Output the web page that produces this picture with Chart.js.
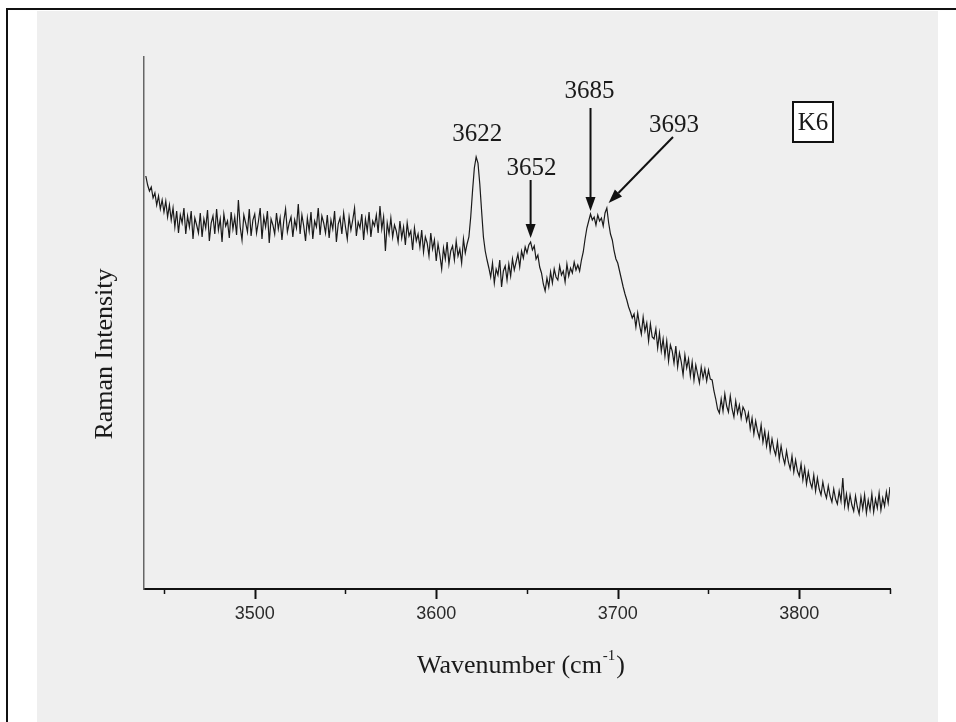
<!DOCTYPE html>
<html>
<head>
<meta charset="utf-8">
<script src="https://cdn.jsdelivr.net/npm/chart.js@4/dist/chart.umd.min.js"></script>
<style>
html, body { margin: 0; padding: 0; background: #fff; }
canvas { display: block; }
</style>
</head>
<body>
<canvas id="ramanChart" width="956" height="722"></canvas>
<script>
// Raman spectrum, sample K6 (intensity in arbitrary units), 1 cm-1 sampling
const wavenumbers = [
  3440, 3441, 3442, 3443, 3444, 3445, 3446, 3447, 3448, 3449,
  3450, 3451, 3452, 3453, 3454, 3455, 3456, 3457, 3458, 3459,
  3460, 3461, 3462, 3463, 3464, 3465, 3466, 3467, 3468, 3469,
  3470, 3471, 3472, 3473, 3474, 3475, 3476, 3477, 3478, 3479,
  3480, 3481, 3482, 3483, 3484, 3485, 3486, 3487, 3488, 3489,
  3490, 3491, 3492, 3493, 3494, 3495, 3496, 3497, 3498, 3499,
  3500, 3501, 3502, 3503, 3504, 3505, 3506, 3507, 3508, 3509,
  3510, 3511, 3512, 3513, 3514, 3515, 3516, 3517, 3518, 3519,
  3520, 3521, 3522, 3523, 3524, 3525, 3526, 3527, 3528, 3529,
  3530, 3531, 3532, 3533, 3534, 3535, 3536, 3537, 3538, 3539,
  3540, 3541, 3542, 3543, 3544, 3545, 3546, 3547, 3548, 3549,
  3550, 3551, 3552, 3553, 3554, 3555, 3556, 3557, 3558, 3559,
  3560, 3561, 3562, 3563, 3564, 3565, 3566, 3567, 3568, 3569,
  3570, 3571, 3572, 3573, 3574, 3575, 3576, 3577, 3578, 3579,
  3580, 3581, 3582, 3583, 3584, 3585, 3586, 3587, 3588, 3589,
  3590, 3591, 3592, 3593, 3594, 3595, 3596, 3597, 3598, 3599,
  3600, 3601, 3602, 3603, 3604, 3605, 3606, 3607, 3608, 3609,
  3610, 3611, 3612, 3613, 3614, 3615, 3616, 3617, 3618, 3619,
  3620, 3621, 3622, 3623, 3624, 3625, 3626, 3627, 3628, 3629,
  3630, 3631, 3632, 3633, 3634, 3635, 3636, 3637, 3638, 3639,
  3640, 3641, 3642, 3643, 3644, 3645, 3646, 3647, 3648, 3649,
  3650, 3651, 3652, 3653, 3654, 3655, 3656, 3657, 3658, 3659,
  3660, 3661, 3662, 3663, 3664, 3665, 3666, 3667, 3668, 3669,
  3670, 3671, 3672, 3673, 3674, 3675, 3676, 3677, 3678, 3679,
  3680, 3681, 3682, 3683, 3684, 3685, 3686, 3687, 3688, 3689,
  3690, 3691, 3692, 3693, 3694, 3695, 3696, 3697, 3698, 3699,
  3700, 3701, 3702, 3703, 3704, 3705, 3706, 3707, 3708, 3709,
  3710, 3711, 3712, 3713, 3714, 3715, 3716, 3717, 3718, 3719,
  3720, 3721, 3722, 3723, 3724, 3725, 3726, 3727, 3728, 3729,
  3730, 3731, 3732, 3733, 3734, 3735, 3736, 3737, 3738, 3739,
  3740, 3741, 3742, 3743, 3744, 3745, 3746, 3747, 3748, 3749,
  3750, 3751, 3752, 3753, 3754, 3755, 3756, 3757, 3758, 3759,
  3760, 3761, 3762, 3763, 3764, 3765, 3766, 3767, 3768, 3769,
  3770, 3771, 3772, 3773, 3774, 3775, 3776, 3777, 3778, 3779,
  3780, 3781, 3782, 3783, 3784, 3785, 3786, 3787, 3788, 3789,
  3790, 3791, 3792, 3793, 3794, 3795, 3796, 3797, 3798, 3799,
  3800, 3801, 3802, 3803, 3804, 3805, 3806, 3807, 3808, 3809,
  3810, 3811, 3812, 3813, 3814, 3815, 3816, 3817, 3818, 3819,
  3820, 3821, 3822, 3823, 3824, 3825, 3826, 3827, 3828, 3829,
  3830, 3831, 3832, 3833, 3834, 3835, 3836, 3837, 3838, 3839,
  3840, 3841, 3842, 3843, 3844, 3845, 3846, 3847, 3848, 3849,
  3850
];
const intensity = [
  413, 404, 398, 402, 391, 396, 384, 393, 380, 389,
  377, 388, 372, 384, 369, 381, 362, 378, 356, 374,
  366, 381, 355, 373, 362, 378, 350, 371, 364, 356,
  376, 352, 370, 361, 379, 348, 366, 373, 355, 380,
  359, 370, 347, 375, 363, 368, 351, 377, 360, 372,
  354, 389, 362, 349, 374, 366, 357, 380, 353, 369,
  375, 356, 367, 381, 350, 372, 362, 378, 346, 370,
  364, 355, 376, 360, 371, 349, 368, 380, 357, 366,
  372, 352, 369, 361, 385, 355, 374, 363, 348, 371,
  358, 377, 350, 368, 362, 381, 354, 373, 366, 356,
  374, 351, 369, 360, 378, 347, 365, 371, 355, 376,
  362, 350, 372, 359, 369, 381, 353, 367, 361, 375,
  349, 370, 358, 377, 352, 368, 363, 374, 356, 383,
  360, 372, 338, 366, 355, 371, 352, 364, 358, 347,
  368, 351, 362, 344, 366, 353, 358, 339, 361, 348,
  355, 342, 359, 337, 352, 346, 333, 356, 340, 349,
  328, 345, 334, 320, 341, 330, 347, 325, 338, 343,
  329, 348, 333, 340, 326, 350, 336, 345, 352, 372,
  398, 421, 432, 426, 405, 378, 352, 338, 329, 321,
  312, 326, 306, 320, 314, 329, 302, 318, 323, 309,
  325, 313, 330, 319, 327, 335, 322, 338, 331, 342,
  336, 344, 347, 339, 343, 330, 334, 322, 316, 305,
  298, 311, 302, 317, 306, 320, 312, 309, 323, 314,
  318, 307, 325, 313, 321, 316, 327, 319, 324, 318,
  329, 337, 350, 361, 368, 375, 369, 372, 364, 374,
  368, 371, 363, 376, 381, 366, 355, 349, 338, 330,
  326, 318, 310, 302, 295, 289, 282, 277, 271, 275,
  262, 276, 264, 255, 272, 258, 266, 248, 265, 252,
  250, 260, 241, 256, 238, 250, 233, 248, 228, 244,
  238, 226, 243, 222, 236, 227, 214, 234, 221, 230,
  213, 227, 209, 224, 215, 206, 222, 211, 220, 208,
  219, 210, 209, 198, 190, 180, 176, 190, 178, 195,
  183, 177, 193, 180, 172, 188, 176, 184, 171, 182,
  178, 168, 176, 160, 171, 155, 168, 158, 151, 164,
  147, 158, 143, 155, 138, 150, 140, 134, 147, 130,
  143, 132, 125, 138, 127, 120, 133, 117, 129, 118,
  113, 125, 109, 121, 105, 117, 107, 101, 114, 98,
  111, 100, 94, 107, 97, 91, 103, 93, 87, 100,
  90, 85, 98, 88, 111, 83, 95, 81, 94, 84,
  78, 93, 82, 75, 92, 80, 94, 76, 89, 79,
  95, 77, 90, 81, 96, 79, 91, 83, 97, 86,
  102
];
const xTicks = [3450, 3500, 3550, 3600, 3650, 3700, 3750, 3800, 3850];
const peaks = ['3622', '3652', '3685', '3693'];

const ctx = document.getElementById('ramanChart').getContext('2d');

const paperPlugin = {
  id: 'paper',
  beforeDraw(chart) {
    const c = chart.ctx;
    c.save();
    c.fillStyle = '#ffffff';
    c.fillRect(0, 0, 956, 722);
    c.fillStyle = '#efefef';
    c.fillRect(37, 11, 901, 711);
    c.fillStyle = '#111';
    c.fillRect(6, 8, 950, 2);
    c.fillRect(6, 8, 2, 714);
    c.restore();
  },
  afterDraw(chart) {
    const c = chart.ctx;
    const xs = chart.scales.x;
    const bottom = chart.chartArea.bottom;
    c.save();
    // tick marks, long ones on the hundreds
    c.strokeStyle = '#111';
    xTicks.forEach(v => {
      const px = Math.round(xs.getPixelForValue(v)) + 0.5;
      const major = v % 100 === 0;
      c.lineWidth = major ? 2 : 1.5;
      c.beginPath();
      c.moveTo(px, bottom);
      c.lineTo(px, bottom + (major ? 10 : 5));
      c.stroke();
    });

    // axis titles
    c.fillStyle = '#1a1a1a';
    c.font = '26px "Liberation Serif", "Times New Roman", serif';
    c.textBaseline = 'alphabetic';
    c.textAlign = 'left';
    const main = 'Wavenumber (cm';
    const w1 = c.measureText(main).width;
    c.font = '15px "Liberation Serif", serif';
    const w2 = c.measureText('-1').width;
    c.font = '26px "Liberation Serif", "Times New Roman", serif';
    const w3 = c.measureText(')').width;
    let tx = 520 - (w1 + w2 + w3) / 2;
    c.fillText(main, tx, 673);
    c.font = '15px "Liberation Serif", serif';
    c.fillText('-1', tx + w1 + 1, 660);
    c.font = '26px "Liberation Serif", "Times New Roman", serif';
    c.fillText(')', tx + w1 + w2 + 2, 673);

    c.save();
    c.translate(105, 354);
    c.rotate(-Math.PI / 2);
    c.textAlign = 'center';
    c.textBaseline = 'middle';
    c.fillText('Raman Intensity', 0, 0);
    c.restore();

    // peak labels and arrows
    c.font = '25px "Liberation Serif", "Times New Roman", serif';
    c.textAlign = 'center';
    c.textBaseline = 'middle';
    const p = v => xs.getPixelForValue(v);
    c.fillText(peaks[0], p(3622) + 1, 134);
    c.fillText(peaks[1], p(3652) + 1, 168);
    c.fillText(peaks[2], p(3685) - 1, 91);
    c.fillText(peaks[3], 674, 125);

    const arrow = (x0, y0, x1, y1) => {
      const ang = Math.atan2(y1 - y0, x1 - x0);
      const hl = 14, hw = 5;
      const bx = x1 - hl * Math.cos(ang), by = y1 - hl * Math.sin(ang);
      c.lineWidth = 2;
      c.strokeStyle = '#111';
      c.beginPath();
      c.moveTo(x0, y0);
      c.lineTo(bx, by);
      c.stroke();
      c.fillStyle = '#111';
      c.beginPath();
      c.moveTo(x1, y1);
      c.lineTo(bx + hw * Math.sin(ang), by - hw * Math.cos(ang));
      c.lineTo(bx - hw * Math.sin(ang), by + hw * Math.cos(ang));
      c.closePath();
      c.fill();
    };
    arrow(p(3652), 180, p(3652), 238);
    arrow(p(3685), 108, p(3685), 211);
    arrow(673, 137, p(3695), 203);

    // sample tag
    c.fillStyle = '#ffffff';
    c.fillRect(792, 101, 42, 42);
    c.lineWidth = 2;
    c.strokeStyle = '#111';
    c.strokeRect(793, 102, 40, 40);
    c.fillStyle = '#1a1a1a';
    c.font = '25px "Liberation Serif", "Times New Roman", serif';
    c.fillText('K6', 813, 123);
    c.restore();
  }
};

const ramanChart = new Chart(ctx, {
  type: 'line',
  data: {
    datasets: [{
      data: wavenumbers.map((w, i) => ({ x: w, y: intensity[i] })),
      borderColor: '#1a1a1a',
      borderWidth: 1.2,
      pointRadius: 0,
      tension: 0,
      fill: false
    }]
  },
  options: {
    responsive: false,
    animation: false,
    devicePixelRatio: 1,
    events: [],
    layout: {
      padding: { left: 144, right: 66, top: 57, bottom: 0 }
    },
    plugins: {
      legend: { display: false },
      tooltip: { enabled: false }
    },
    scales: {
      x: {
        type: 'linear',
        min: 3439,
        max: 3850,
        afterBuildTicks: scale => {
          scale.ticks = xTicks.map(v => ({ value: v }));
        },
        afterFit: scale => { scale.height = 133; },
        border: { display: true, color: '#111', width: 2 },
        grid: { drawOnChartArea: false, drawTicks: true, tickLength: 10, tickColor: 'rgba(0,0,0,0)' },
        ticks: {
          autoSkip: false,
          maxRotation: 0,
          padding: 4,
          color: '#2a2a2a',
          font: { family: '"Liberation Sans", Arial, sans-serif', size: 18 },
          callback: v => (v % 100 === 0 ? String(v) : '')
        }
      },
      y: {
        min: 0,
        max: 532,
        afterFit: scale => { scale.width = 0; },
        border: { display: true, color: '#666', width: 1.5 },
        grid: { display: false },
        ticks: { display: false }
      }
    }
  },
  plugins: [paperPlugin]
});
</script>
</body>
</html>
